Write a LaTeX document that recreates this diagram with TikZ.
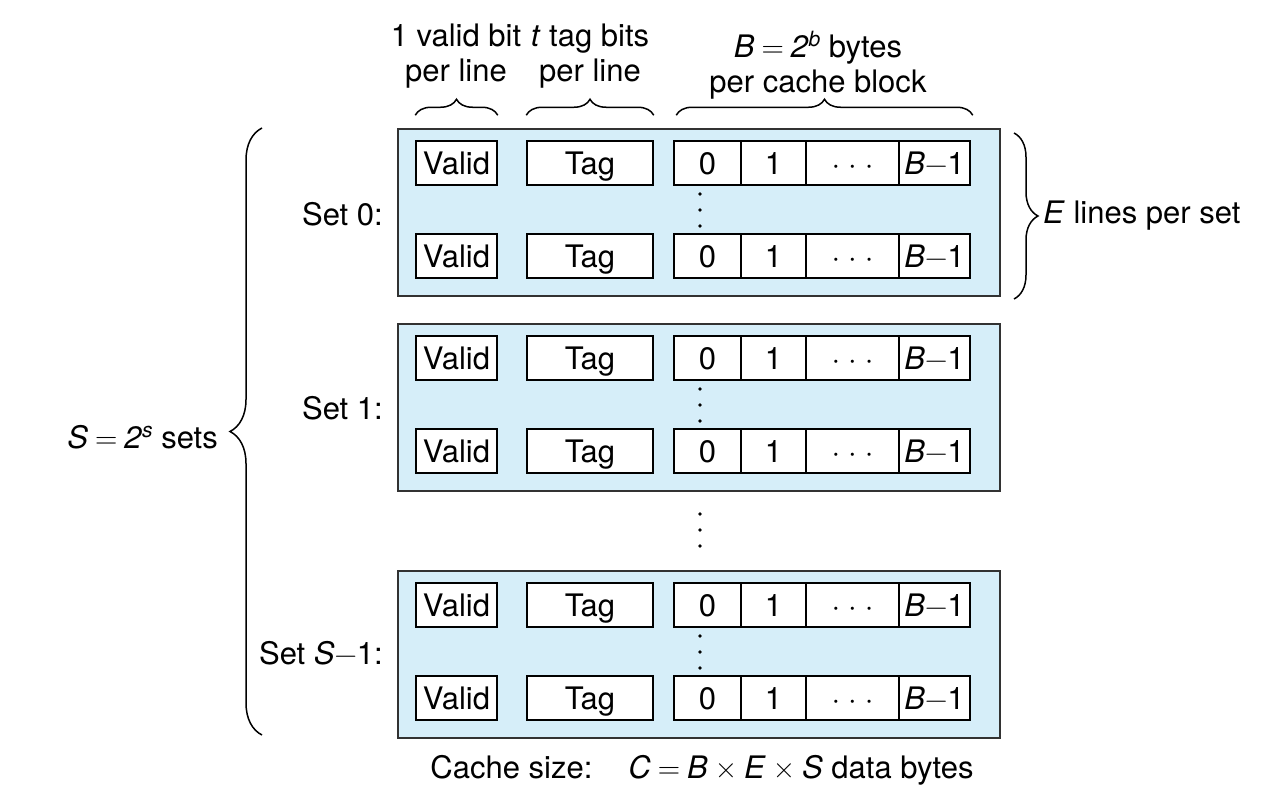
\documentclass[tikz,border=0pt]{standalone}
\usepackage{fontspec}
\setmainfont{TeX Gyre Heros}
\newfontfamily\lmr{Latin Modern Roman}
\usetikzlibrary{decorations.pathreplacing,calc}
\definecolor{setfill}{RGB}{214,238,249}
\definecolor{setline}{RGB}{50,50,50}
\newcommand{\supit}[1]{\raisebox{11pt}{\fontsize{21}{21}\selectfont\textit{#1}}}
\newcommand{\meq}{\hspace{7pt}{\lmr =}\hspace{7pt}}
\newcommand{\mtimes}{\hspace{7pt}{\lmr ×}\hspace{7pt}}
\newcommand{\mminus}{{\lmr −}}
\begin{document}
\begin{tikzpicture}[x=1pt,y=-1pt,font=\fontsize{31}{35}\selectfont,
  setbox/.style={draw=setline,line width=2pt,fill=setfill,minimum width=602pt,minimum height=167pt,inner sep=0pt,anchor=north west},
  cell/.style={draw=black,line width=1.5pt,fill=white,minimum height=44pt,inner sep=0pt,text height=22pt,text depth=0pt,anchor=center},
  lbl/.style={inner sep=0pt,align=center},
  bracestyle/.style={decorate,line width=1.5pt},
  topbrace/.style={bracestyle,decoration={brace,amplitude=16pt}},
  vdot/.style={fill=black}]
\useasboundingbox (0,0) rectangle (1270,795);
\foreach \s/\t in {0/128,1/323,2/570}{
  \node[setbox] (set\s) at (397,\t) {};
  \foreach \r/\dy in {a/35,b/128}{
    \node[cell,minimum width=81pt] (v\s\r) at (456.5,{\t+\dy}) {Valid};
    \node[cell,minimum width=126pt] (t\s\r) at (590,{\t+\dy}) {Tag};
    \node[cell,minimum width=67pt] (c\s\r) at (707.5,{\t+\dy}) {0};
    \node[cell,minimum width=65pt] (d\s\r) at (773.5,{\t+\dy}) {1};
    \node[cell,minimum width=93pt] (e\s\r) at (852.5,{\t+\dy}) {·\hspace{8pt}·\hspace{8pt}·};
    \node[cell,minimum width=71pt] (f\s\r) at (934.5,{\t+\dy}) {\textit{B}\mminus1};
  }
  \foreach \dy in {66,82,98}{
    \fill[vdot] (700,{\t+\dy}) circle (1.8pt);
  }
}
% dots between sets
\foreach \y in {514,530,546}{
  \fill[vdot] (700,\y) circle (1.8pt);
}
% header labels
\node[lbl] (hv) at (456,56) {1 valid bit\\per line};
\node[lbl] (ht) at (590,56) {\textit{t} tag bits\\per line};
\node[lbl] (hb) at (818,65) {\textit{B}\meq\textit{2}\supit{b} bytes\\per cache block};
% top braces
\draw[topbrace] ($(v0a.north west)+(0,-25)$) -- ($(v0a.north east)+(0,-25)$);
\draw[topbrace] ($(t0a.north west)+(0,-25)$) -- ($(t0a.north east)+(0,-25)$);
\draw[topbrace] ($(c0a.north west)+(3,-25)$) -- ($(f0a.north east)+(2,-25)$);
% set labels
\node[lbl,anchor=east] (l0) at (383,214) {Set 0:};
\node[lbl,anchor=east] (l1) at (383,408) {Set 1:};
\node[lbl,anchor=east] (l2) at (383,653) {Set \textit{S}\mminus1:};
% left brace
\draw[bracestyle,decoration={brace,amplitude=32pt}] ($(set2.south west)+(-135,-4)$) -- ($(set0.north west)+(-135,0)$);
\node[lbl,anchor=east] (ls) at (218,437) {\textit{S}\meq\textit{2}\supit{s} sets};
% right brace
\draw[bracestyle,decoration={brace,amplitude=24pt}] ($(set0.north east)+(13,5)$) -- ($(set0.south east)+(13,2)$);
\node[lbl,anchor=west] (le) at (1043,216) {\textit{E} lines per set};
% bottom text
\node[lbl] (cs) at (702,770) {Cache size:\hspace{36pt}\textit{C}\meq\textit{B}\mtimes\textit{E}\mtimes\textit{S} data bytes};
\end{tikzpicture}
\end{document}
